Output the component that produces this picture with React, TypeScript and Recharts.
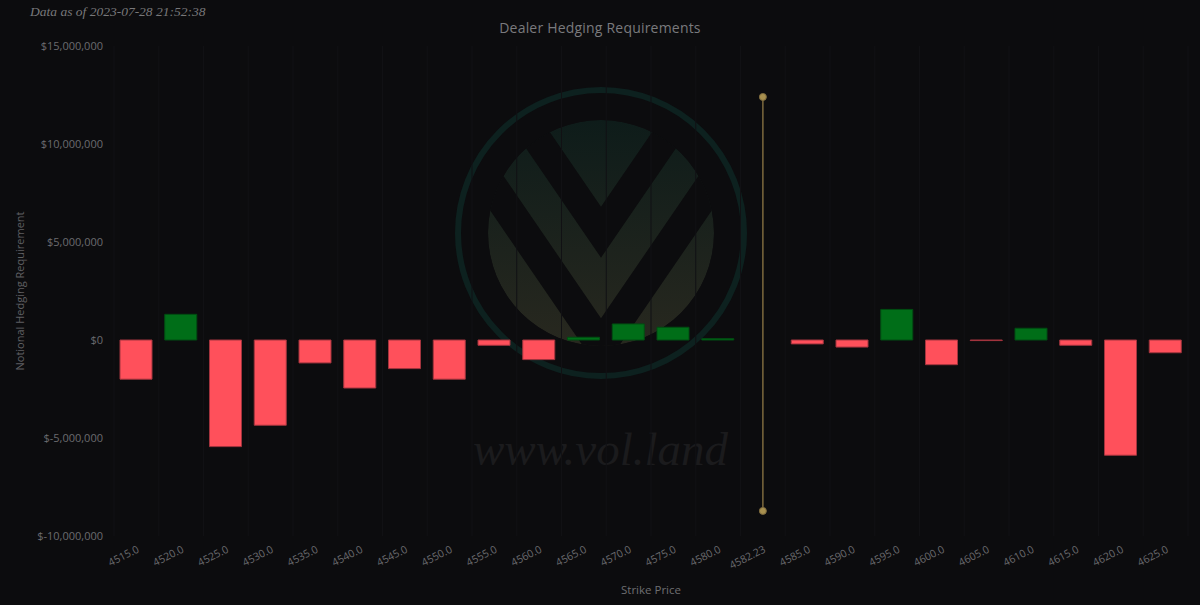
import React from 'react';
import { BarChart, Bar, XAxis, YAxis, CartesianGrid, Cell, ReferenceLine, ReferenceDot } from 'recharts';

const strikes = ['4515.0','4520.0','4525.0','4530.0','4535.0','4540.0','4545.0','4550.0','4555.0','4560.0','4565.0','4570.0','4575.0','4580.0','4582.23','4585.0','4590.0','4595.0','4600.0','4605.0','4610.0','4615.0','4620.0','4625.0'];
const hedging: (number | null)[] = [-2000000, 1310000, -5440000, -4350000, -1170000, -2450000, -1460000, -2000000, -270000, -1000000, 140000, 820000, 650000, 70000, null, -200000, -360000, 1560000, -1260000, -30000, 600000, -270000, -5880000, -650000];
const yTicks = [-10000000, -5000000, 0, 5000000, 10000000, 15000000];
const spotStrike = '4582.23';
const spotLineTop = 12400000;
const spotLineBottom = -8720000;

const data = strikes.map((s, i) => ({ strike: s, value: hedging[i] }));

const BG = '#0c0c0e';
const FONT = '"Open Sans", "Noto Sans", sans-serif';

const fmtMoney = (v: number) => `$${v.toLocaleString('en-US')}`;

const XTick = (props: any) => {
  const { x, y, payload } = props;
  return (
    <g transform={`translate(${x},${y + 1})`}>
      <text textAnchor="end" transform="rotate(-27)" dy="0.71em" fill="#6b6b6e" fontSize={10.5} fontFamily={FONT}>
        {payload.value}
      </text>
    </g>
  );
};

const Watermark = () => {
  const cx = 601;
  const cy = 233;
  const r = 113;
  const k = 1.46;
  const L = 160;
  const band = (ya: number, yb: number) =>
    `${cx - L},${ya - k * L} ${cx},${ya} ${cx + L},${ya - k * L} ${cx + L},${yb - k * L} ${cx},${yb} ${cx - L},${yb - k * L}`;
  return (
    <svg width={1200} height={605} style={{ position: 'absolute', left: 0, top: 0 }}>
      <defs>
        <linearGradient id="wmg" x1="0" y1="0" x2="0" y2="1">
          <stop offset="0%" stopColor="#0e1c1a" />
          <stop offset="100%" stopColor="#28281f" />
        </linearGradient>
        <clipPath id="wmclip">
          <circle cx={cx} cy={cy} r={r} />
        </clipPath>
      </defs>
      <circle cx={cx} cy={cy} r={143} fill="none" stroke="#0d211f" strokeWidth={6} />
      <g clipPath="url(#wmclip)">
        <circle cx={cx} cy={cy} r={r} fill="url(#wmg)" />
        <polygon points={band(206.7, 257.7)} fill={BG} />
        <polygon points={band(318.3, 372.3)} fill={BG} />
      </g>
      <text x={473} y={465} textLength={255} lengthAdjust="spacingAndGlyphs" fontFamily='"Liberation Serif", "DejaVu Serif", serif' fontStyle="italic" fontSize={46} fill="#1b1b1d">
        www.vol.land
      </text>
    </svg>
  );
};

export default function App() {
  return (
    <div style={{ position: 'absolute', left: 0, top: 0, width: 1200, height: 605, background: BG, overflow: 'hidden' }}>
      <Watermark />
      <div style={{ position: 'absolute', left: 30, top: 4, fontFamily: '"Liberation Serif", serif', fontStyle: 'italic', fontSize: 13.5, color: '#78787a', whiteSpace: 'nowrap' }}>
        Data as of 2023-07-28 21:52:38
      </div>
      <div style={{ position: 'absolute', left: 0, top: 18, width: 1200, textAlign: 'center', fontFamily: FONT, fontSize: 14, color: '#7a7a7d', letterSpacing: 0.2 }}>
        Dealer Hedging Requirements
      </div>
      <div style={{ position: 'absolute', left: 0, top: 0 }}>
        <BarChart width={1200} height={605} data={data} margin={{ top: 46, right: 12, bottom: 11, left: 14 }} barSize={32}>
          <CartesianGrid
            horizontal={false}
            stroke="#111114"
            verticalCoordinatesGenerator={({ offset }: any) =>
              strikes.map((_, i) => offset.left + (i * offset.width) / strikes.length).concat([offset.left + offset.width])
            }
          />
          <XAxis
            dataKey="strike"
            interval={0}
            tick={<XTick />}
            tickLine={false}
            axisLine={false}
            height={58}
            label={{ value: 'Strike Price', position: 'insideBottom', offset: 0, fill: '#6e6e71', fontSize: 11.5, fontFamily: FONT }}
          />
          <YAxis
            domain={[-10000000, 15000000]}
            ticks={yTicks}
            tickFormatter={fmtMoney}
            tick={{ fill: '#6b6b6e', fontSize: 11, fontFamily: FONT }}
            tickLine={false}
            axisLine={false}
            tickMargin={5}
            width={100}
            label={{ value: 'Notional Hedging Requirement', angle: -90, position: 'insideLeft', offset: 6, fill: '#5f5f62', fontSize: 11, fontFamily: FONT, style: { textAnchor: 'middle' } }}
          />
          <Bar dataKey="value" isAnimationActive={false} strokeWidth={1}>
            {data.map((d, i) => (
              <Cell
                key={i}
                fill={(d.value ?? 0) >= 0 ? '#006e18' : '#ff505b'}
                stroke={(d.value ?? 0) >= 0 ? '#004d12' : '#a3343e'}
              />
            ))}
          </Bar>
          <ReferenceLine
            segment={[{ x: spotStrike, y: spotLineTop }, { x: spotStrike, y: spotLineBottom }]}
            stroke="#7d6a3e"
            strokeWidth={1.5}
          />
          <ReferenceDot x={spotStrike} y={spotLineTop} r={3.5} fill="#a8904f" stroke="#7d6a3e" strokeWidth={1} />
          <ReferenceDot x={spotStrike} y={spotLineBottom} r={3.5} fill="#a8904f" stroke="#7d6a3e" strokeWidth={1} />
        </BarChart>
      </div>
    </div>
  );
}
